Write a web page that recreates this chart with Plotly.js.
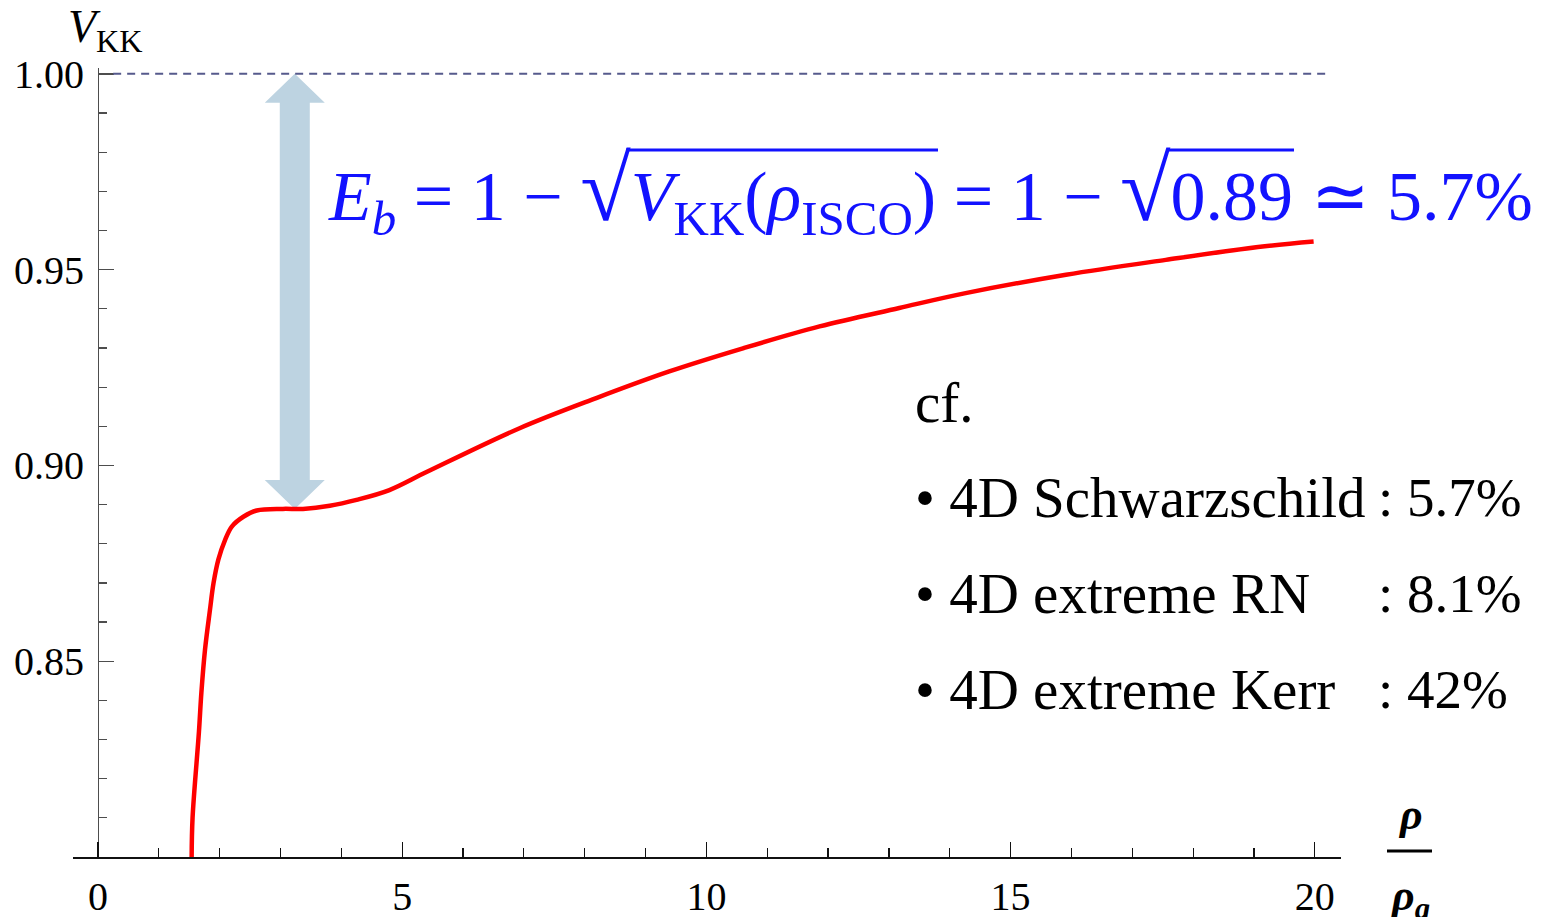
<!DOCTYPE html>
<html>
<head>
<meta charset="utf-8">
<script src="https://cdn.plot.ly/plotly-3.0.1.min.js"></script>
<style>html,body{margin:0;padding:0;background:#fff;}#chart{width:1543px;height:917px;}</style>
</head>
<body>
<div id="chart"></div>
<script>
// ---- data ----
const rho = [1.54, 1.555, 1.66, 1.70, 1.76, 1.84, 1.90, 1.98, 2.09, 2.20, 2.39, 2.61, 3.04, 3.37, 3.81, 4.25, 4.79, 5.40, 6.93, 8.19, 9.39, 10.60, 11.86, 13.17, 14.26, 15.91, 17.55, 19.14, 19.98];
const VKK = [0.800, 0.810, 0.832, 0.842, 0.853, 0.863, 0.870, 0.876, 0.881, 0.8844, 0.8869, 0.8885, 0.8889, 0.8889, 0.8897, 0.8912, 0.8937, 0.8983, 0.9095, 0.9172, 0.9240, 0.9299, 0.9355, 0.9402, 0.9440, 0.9487, 0.9525, 0.9559, 0.9572];
const xTickVals = [0, 5, 10, 15, 20];
const xTickText = ['0', '5', '10', '15', '20'];
const yTickVals = [0.85, 0.90, 0.95, 1.00];
const yTickText = ['0.85', '0.90', '0.95', '1.00'];
const rhoISCO = 3.235;
const VISCO = 0.8889;
const Vinf = 1.0;
const cfLabels = ['• 4D Schwarzschild', '• 4D extreme RN', '• 4D extreme Kerr'];
const cfValues = [': 5.7%', ': 8.1%', ': 42%'];

// ---- layout geometry ----
const W = 1543, H = 917;
const M = {l: 73, r: 202, t: 68, b: 60};
const pw = W - M.l - M.r, ph = H - M.t - M.b;
const xRange = [-0.41, 20.43];
const yRange = [0.80, 1.0015];
function P(px, py) { return {x: (px - M.l) / pw, y: (H - M.b - py) / ph}; }
const pxPerX = pw / (xRange[1] - xRange[0]);
const pxPerY = ph / (yRange[1] - yRange[0]);

// double arrow (ISCO binding energy) built from ISCO values
const hs = 15 / pxPerX, hh = 30 / pxPerX, hl = 29 / pxPerY;
const xa = rhoISCO;
const arrowPath = [
  'M', xa, Vinf,
  'L', xa + hh, Vinf - hl, 'L', xa + hs, Vinf - hl, 'L', xa + hs, VISCO + hl, 'L', xa + hh, VISCO + hl,
  'L', xa, VISCO,
  'L', xa - hh, VISCO + hl, 'L', xa - hs, VISCO + hl, 'L', xa - hs, Vinf - hl, 'L', xa - hh, Vinf - hl, 'Z'
].join(' ');

const serif = 'Liberation Serif, Times New Roman, serif';
const blue = '#1212ff';

const trace = {
  x: rho, y: VKK, type: 'scatter', mode: 'lines',
  line: {color: '#ff0000', width: 4.5, shape: 'spline', smoothing: 1.0},
  hoverinfo: 'skip'
};

function ann(px, py, text, size, color, xanchor, extra) {
  const p = P(px, py);
  return Object.assign({xref: 'paper', yref: 'paper', x: p.x, y: p.y, text: text, showarrow: false,
    xanchor: xanchor || 'left', yanchor: 'middle', font: {family: serif, size: size, color: color || '#000'}}, extra || {});
}

const annotations = [
  ann(66, 30, '<i>V</i><sub>KK</sub>', 46, '#000', 'left'),
  ann(1410, 814, '<i><b>ρ</b></i>', 44, '#000', 'center'),
  ann(1410, 898, '<i><b>ρ</b></i><sub><i><b>g</b></i></sub>', 44, '#000', 'center'),
  ann(326, 192, '<i>E</i><sub><i>b</i></sub> = 1 − <span style="font-size:92px">√</span><i>V</i><sub>KK</sub>(<i>ρ</i><sub>ISCO</sub>) = 1 − <span style="font-size:92px">√</span>0.89 ≃ 5.7%', 70, blue, 'left'),
  ann(913, 402, 'cf.', 57, '#000', 'left')
];
cfLabels.forEach((t, i) => annotations.push(ann(913, 497 + i * 96, t, 57, '#000', 'left')));
cfValues.forEach((t, i) => annotations.push(ann(1376, 497 + i * 96, t, 55, '#000', 'left')));

function pline(px0, py0, px1, py1, color, width) {
  const a = P(px0, py0), b = P(px1, py1);
  return {type: 'line', xref: 'paper', yref: 'paper', x0: a.x, y0: a.y, x1: b.x, y1: b.y, line: {color: color, width: width}};
}

const shapes = [
  {type: 'path', xref: 'x', yref: 'y', path: arrowPath, fillcolor: '#bdd3e1', line: {width: 0}, layer: 'below'},
  {type: 'line', xref: 'x', yref: 'y', x0: 0.25, x1: 20.18, y0: Vinf, y1: Vinf, line: {color: '#565a8c', width: 2, dash: '8px,6px'}},
  pline(1387, 851, 1432, 851, '#000', 3),
  pline(626, 150, 938, 150, blue, 3),
  pline(1168, 150, 1294, 150, blue, 3)
];

const layout = {
  width: W, height: H, margin: M,
  paper_bgcolor: '#fff', plot_bgcolor: '#fff', showlegend: false,
  xaxis: {
    range: xRange, showgrid: false, zeroline: false, showline: true, linecolor: '#111', linewidth: 1.5,
    ticks: 'inside', ticklen: 15, tickwidth: 1.3, tickcolor: '#111',
    tickmode: 'array', tickvals: xTickVals, ticktext: xTickText,
    tickfont: {family: serif, size: 40, color: '#000'}, ticklabelstandoff: 3,
    minor: {ticks: 'inside', tickmode: 'linear', tick0: 0, dtick: 1, ticklen: 9, tickwidth: 1.2, tickcolor: '#111', showgrid: false},
    fixedrange: true
  },
  yaxis: {
    range: yRange, anchor: 'free', position: (0 - xRange[0]) / (xRange[1] - xRange[0]), side: 'left',
    showgrid: false, zeroline: false, showline: true, linecolor: '#4d4d4d', linewidth: 1.5,
    ticks: 'inside', ticklen: 15, tickwidth: 1.3, tickcolor: '#4d4d4d',
    tickmode: 'array', tickvals: yTickVals, ticktext: yTickText,
    tickfont: {family: serif, size: 40, color: '#000'}, ticklabelstandoff: 6,
    minor: {ticks: 'inside', tickmode: 'linear', tick0: 0.8, dtick: 0.01, ticklen: 8, tickwidth: 1.2, tickcolor: '#4d4d4d', showgrid: false},
    fixedrange: true
  },
  annotations: annotations,
  shapes: shapes
};

Plotly.newPlot('chart', [trace], layout, {displayModeBar: false, staticPlot: true});
</script>
</body>
</html>
